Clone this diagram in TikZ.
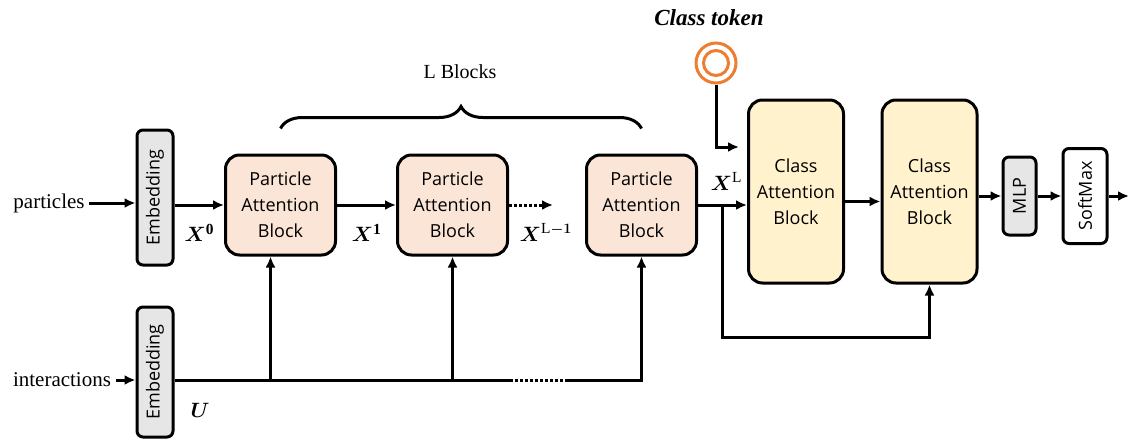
\documentclass[tikz,border=0pt]{standalone}
\usepackage{amssymb,amsmath,bm}
\usepackage{fontspec}
\setmainfont{Liberation Serif}
\setsansfont{Open Sans}
\usepackage{tikz}
\usetikzlibrary{arrows.meta,positioning,decorations.pathreplacing}

\definecolor{peach}{HTML}{FBE5D6}
\definecolor{cream}{HTML}{FFF2CC}
\definecolor{embgray}{HTML}{E6E6E6}
\definecolor{tokenorange}{HTML}{ED7D31}

\begin{document}
\begin{tikzpicture}[x=1pt,y=-1pt,->,>={Latex[length=11pt,width=10pt]},line width=3pt,auto,node distance=172pt,
      box/.style={draw,line width=3pt,rounded corners=14pt,align=center,
        font=\sffamily\fontsize{18}{26}\selectfont},
      pa node/.style={box,fill=peach,minimum width=110pt,minimum height=100pt},
      ca node/.style={box,fill=cream,minimum width=95pt,minimum height=183pt},
      thin node/.style={draw,line width=3pt,rounded corners=6pt,inner sep=0pt,
        font=\sffamily\fontsize{18}{20}\selectfont},
      lbl/.style={font=\fontsize{21}{24}\selectfont},
      sym/.style={font=\fontsize{22}{24}\selectfont},
      dots/.style={dash pattern=on 3pt off 2pt}]

      \useasboundingbox (0,0) rectangle (1130,439);

      % particle branch
      \node[lbl] (particles) at (49,203) {particles};
      \node[thin node,fill=embgray,minimum width=36pt,minimum height=135pt] (emb1) at (155,197.5) {\rotatebox{90}{Embedding}};
      \node[pa node] (pab1) at (280.5,205) {Particle\\Attention\\Block};
      \node[pa node] (pab2) [right of=pab1] {Particle\\Attention\\Block};
      \node[pa node] (pab3) [right of=pab2, node distance=189pt] {Particle\\Attention\\Block};
      \coordinate (dots end) at (553,205);

      % class attention and head
      \node[ca node] (cab1) at (796,191.5) {Class\\Attention\\Block};
      \node[ca node] (cab2) [right of=cab1, node distance=133.5pt] {Class\\Attention\\Block};
      \node[thin node,fill=embgray,minimum width=33pt,minimum height=78pt] (mlp) at (1019.5,196) {\rotatebox{90}{MLP}};
      \node[thin node,fill=white,minimum width=44pt,minimum height=95pt] (softmax) [right of=mlp, node distance=65.5pt] {\rotatebox{90}{SoftMax}};
      \coordinate (out) at (1129,196);
      \coordinate (split) at (722,205);

      % class token
      \node[circle,draw=tokenorange,line width=3pt,minimum size=40pt,inner sep=0pt] (token) at (716,63) {};
      \node[circle,draw=tokenorange,line width=3pt,minimum size=25pt,inner sep=0pt] (token in) at (token) {};
      \node[font=\bfseries\itshape\fontsize{23}{26}\selectfont] (clstoken) at (709,18) {Class token};

      % interaction branch
      \node[lbl] (interactions) at (62,380) {interactions};
      \node[thin node,fill=embgray,minimum width=36pt,minimum height=130pt] (emb2) at (155,372) {\rotatebox{90}{Embedding}};
      \coordinate (u0) at (emb2.east |- interactions);
      \coordinate (gap l) at (510,380);
      \coordinate (gap r) at (567,380);
      \coordinate (u end) at (pab3.south |- interactions);

      \node[font=\fontsize{20}{24}\selectfont] (lblocks) at (460,72) {L Blocks};
      \draw[-,decorate,decoration={brace,amplitude=22pt}]
        ([yshift=25pt]pab1.north) -- ([yshift=25pt]pab3.north);

      \path[every node/.style={sym}]
      (particles) edge (particles -| emb1.west)
      (emb1.east |- pab1) edge node[below=14pt] {$\bm{X}^{\mathbf{0}}$} (pab1)
      (pab1) edge node[below=14pt] {$\bm{X}^{\mathbf{1}}$} (pab2)
      (pab2) edge[dots] node[below=14pt,xshift=15pt] {$\bm{X}^{\mathrm{L}\bm{-1}}$} (dots end)
      (pab3.east) edge node[above=10pt,xshift=4pt] {$\bm{X}^{\mathrm{L}}$} (pab3.east -| cab1.west)
      ([yshift=-10pt]cab1.east) edge ([yshift=-10pt]cab2.west)
      (cab2.east |- mlp) edge (mlp)
      (mlp) edge (softmax)
      (softmax) edge (out)
      (interactions) edge (interactions -| emb2.west);

      \draw[shorten >=8pt] (token.south) |- ([yshift=44.5pt]cab1.west);
      \draw (split) -- ++(0,132) -| (cab2.south);

      \draw[-] (u0) -- (gap l);
      \draw[-,dots] (gap l) -- (gap r);
      \draw (gap r) -- (u end) -- (pab3.south);
      \draw ([xshift=-10pt]pab1.south |- u0) -- ([xshift=-10pt]pab1.south);
      \draw (pab2.south |- u0) -- (pab2.south);
      \node[sym] (U) at (200,410) {$\bm{U}$};
\end{tikzpicture}
\end{document}
